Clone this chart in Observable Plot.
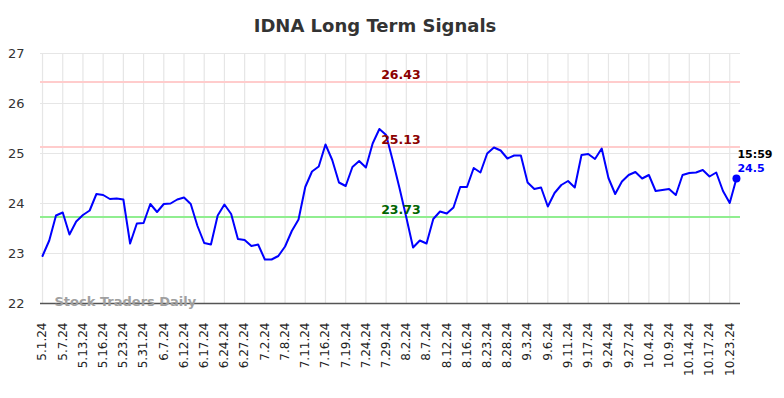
<!DOCTYPE html>
<html>
<head>
<meta charset="utf-8">
<script src="https://cdn.jsdelivr.net/npm/d3@7"></script>
<script src="https://cdn.jsdelivr.net/npm/@observablehq/plot@0.6"></script>
<style>
  html, body { margin: 0; padding: 0; background: #fff; }
  #title { width: 750px; height: 40px; box-sizing: border-box; padding-top: 15px; line-height: 22px;
           text-align: center; font-family: "DejaVu Sans", sans-serif; font-weight: bold; font-size: 18px; color: #333; }
</style>
</head>
<body>
<div id="title">IDNA Long Term Signals</div>
<div id="chart"></div>
<script>
const tickLabels = ["5.1.24","5.7.24","5.13.24","5.16.24","5.23.24","5.31.24","6.7.24","6.12.24","6.17.24","6.24.24","6.27.24","7.2.24","7.8.24","7.11.24","7.16.24","7.19.24","7.24.24","7.29.24","8.2.24","8.7.24","8.12.24","8.16.24","8.23.24","8.28.24","9.3.24","9.6.24","9.11.24","9.17.24","9.24.24","9.27.24","10.4.24","10.9.24","10.14.24","10.17.24","10.23.24"];
const prices = [22.95,23.26,23.76,23.82,23.38,23.64,23.77,23.86,24.19,24.17,
  24.09,24.10,24.08,23.20,23.60,23.61,23.99,23.83,23.99,24.00,
  24.08,24.12,23.99,23.55,23.21,23.18,23.76,23.98,23.79,23.29,
  23.27,23.15,23.18,22.88,22.88,22.95,23.14,23.45,23.68,24.33,
  24.64,24.74,25.18,24.87,24.42,24.35,24.73,24.85,24.72,25.20,
  25.49,25.37,24.85,24.30,23.72,23.12,23.26,23.20,23.69,23.84,
  23.80,23.92,24.33,24.33,24.71,24.62,25.00,25.12,25.06,24.90,
  24.96,24.96,24.42,24.29,24.32,23.94,24.21,24.37,24.45,24.32,
  24.97,24.99,24.89,25.10,24.51,24.19,24.44,24.57,24.63,24.50,
  24.57,24.25,24.27,24.29,24.17,24.57,24.61,24.62,24.67,24.54,
  24.62,24.25,24.01,24.50];
const yTicks = [22,23,24,25,26,27];
const resistanceLevels = [26.43, 25.13];
const supportLevels = [23.73];
const lastTime = "15:59";
const lastValue = 24.5;
const watermark = "Stock Traders Daily";

const tickIdx = tickLabels.map((_, k) => k * 3);
const data = prices.map((v, i) => ({i, v}));
const last = [{i: prices.length - 1, v: prices[prices.length - 1]}];
const labelX = 53.2;

const chart = Plot.plot({
  width: 784, height: 358,
  marginTop: 13, marginBottom: 95, marginLeft: 40, marginRight: 44,
  style: {fontFamily: "DejaVu Sans, sans-serif", background: "#fff", color: "#333"},
  x: {domain: [-0.3, 103.6], label: null},
  y: {domain: [22, 27], label: null},
  marks: [
    Plot.gridY(yTicks, {stroke: "#e6e6e6", strokeOpacity: 1, strokeWidth: 1.2}),
    Plot.gridX(tickIdx, {stroke: "#e6e6e6", strokeOpacity: 1, strokeWidth: 1.2}),
    Plot.ruleY(resistanceLevels, {stroke: "#ffcccc", strokeWidth: 2}),
    Plot.ruleY(supportLevels, {stroke: "#90ee90", strokeWidth: 2}),
    Plot.axisY(yTicks, {label: null, tickSize: 0, tickPadding: 16, fontSize: 13, fill: "#333", tickFormat: d => String(d)}),
    Plot.axisX(tickIdx, {label: null, tickSize: 0, tickPadding: 19, tickRotate: -90, fontSize: 12, fill: "#222",
      tickFormat: d => tickLabels[Math.round(d / 3)]}),
    Plot.ruleY([22], {stroke: "#555", strokeWidth: 1.5}),
    Plot.text([watermark], {frameAnchor: "bottom-left", dx: 14, dy: 2, textAnchor: "start",
      fontSize: 13, fontWeight: "bold", fill: "#a0a0a0", text: d => d}),
    Plot.line(data, {x: "i", y: "v", stroke: "#0000ff", strokeWidth: 2}),
    Plot.text(resistanceLevels, {x: () => labelX, y: d => d, text: d => d.toFixed(2), dy: -7,
      fill: "#8b0000", fontWeight: "bold", fontSize: 12.5}),
    Plot.text(supportLevels, {x: () => labelX, y: d => d, text: d => d.toFixed(2), dy: -7,
      fill: "#006400", fontWeight: "bold", fontSize: 12.5}),
    Plot.dot(last, {x: "i", y: "v", r: 4, fill: "#0000ff"}),
    Plot.text(last, {x: "i", y: "v", text: () => lastTime, dx: 1, dy: -24, textAnchor: "start",
      fill: "#000", fontWeight: "bold", fontSize: 11}),
    Plot.text(last, {x: "i", y: "v", text: () => String(lastValue), dx: 1, dy: -10, textAnchor: "start",
      fill: "#0000ff", fontWeight: "bold", fontSize: 11})
  ]
});
document.getElementById("chart").appendChild(chart);
</script>
</body>
</html>
